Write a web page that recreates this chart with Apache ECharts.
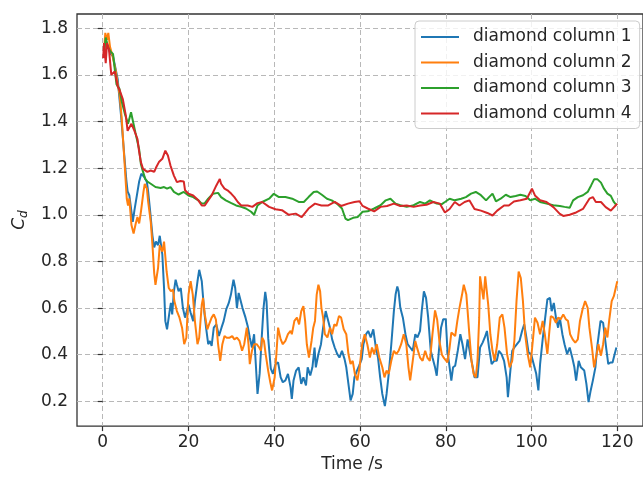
<!DOCTYPE html>
<html>
<head>
<meta charset="utf-8">
<script src="https://cdn.jsdelivr.net/npm/echarts@6/dist/echarts.min.js"></script>
<style>
  html, body { margin: 0; padding: 0; background: #fff; }
  #chart { width: 643px; height: 478px; }
</style>
</head>
<body>
<div id="chart"></div>
<script>
// Drag coefficient histories of four diamond columns (time in s, Cd)
const seriesNames = ['diamond column 1', 'diamond column 2', 'diamond column 3', 'diamond column 4'];
const seriesColors = ['#1f77b4', '#ff7f0e', '#2ca02c', '#d62728'];

const xTicks = [0, 20, 40, 60, 80, 100, 120];
const yTicks = [0.2, 0.4, 0.6, 0.8, 1.0, 1.2, 1.4, 1.6, 1.8];

const tCol1 = [0.3,0.7,1.2,1.8,2.4,2.8,3.5,4.3,5.0,5.5,5.8,6.2,7.0,7.4,7.7,8.1,8.5,9.0,9.7,10.3,10.6,11.0,11.6,12.0,12.4,12.9,13.3,13.9,14.3,14.6,15.0,15.6,15.9,16.2,16.6,17.0,17.3,17.7,18.2,18.7,19.2,20.0,20.5,21.1,21.5,22.1,22.5,23.1,23.6,24.1,24.6,25.0,25.4,25.9,26.5,27.1,27.7,28.2,28.8,29.4,29.9,30.5,30.9,31.3,31.7,32.1,32.6,33.3,33.8,34.3,34.8,35.3,35.7,36.1,36.6,37.1,37.5,37.9,38.2,38.6,39.2,39.7,40.3,40.9,41.5,42.0,42.6,43.2,43.8,44.1,44.5,45.1,45.7,46.3,46.8,47.4,47.8,48.4,48.9,49.4,49.7,50.3,50.9,51.4,52.0,52.4,53.0,53.5,54.1,54.7,55.2,55.8,56.4,56.8,57.3,57.8,58.3,58.7,59.3,59.8,60.4,60.8,61.4,61.9,62.5,63.1,63.7,64.2,64.7,65.2,65.8,66.2,66.7,67.3,67.9,68.3,68.7,69.0,69.4,70.0,70.6,71.1,71.7,72.3,72.9,73.4,74.0,74.4,74.9,75.4,75.9,76.5,76.9,77.5,77.9,78.4,78.9,79.4,80.0,80.4,80.9,81.3,81.7,82.2,82.8,83.4,83.9,84.5,85.1,85.7,86.3,86.7,87.4,88.0,88.6,89.1,89.6,90.1,90.7,91.3,91.9,92.4,93.0,93.6,94.2,94.5,95.0,95.5,96.0,96.6,97.2,97.8,98.3,98.8,99.3,99.9,100.5,101.1,101.6,102.0,102.6,103.1,103.7,104.3,104.7,105.2,105.7,106.2,106.6,107.2,107.7,108.3,108.9,109.5,110.0,110.4,111.0,111.5,112.3,112.8,113.3,113.8,114.3,114.9,115.3,115.7,116.1,116.7,117.1,117.4,117.9,118.4,118.9,119.4,119.8];
const cdCol1 = [1.70,1.75,1.72,1.69,1.68,1.68,1.58,1.42,1.26,1.15,1.10,1.084,0.97,1.02,1.013,1.098,1.143,1.176,1.162,1.14,1.098,1.027,0.91,0.86,0.885,0.87,0.91,0.83,0.686,0.544,0.509,0.587,0.622,0.573,0.672,0.722,0.70,0.672,0.686,0.60,0.559,0.615,0.58,0.544,0.63,0.715,0.764,0.715,0.60,0.516,0.445,0.459,0.438,0.516,0.53,0.48,0.516,0.544,0.594,0.622,0.658,0.722,0.686,0.60,0.665,0.672,0.60,0.559,0.523,0.473,0.431,0.488,0.36,0.232,0.32,0.48,0.60,0.67,0.63,0.47,0.34,0.318,0.36,0.367,0.303,0.282,0.29,0.318,0.261,0.211,0.29,0.332,0.346,0.275,0.303,0.268,0.346,0.311,0.346,0.431,0.346,0.403,0.445,0.516,0.587,0.559,0.516,0.466,0.431,0.403,0.388,0.417,0.381,0.346,0.275,0.204,0.232,0.303,0.332,0.353,0.381,0.445,0.488,0.502,0.474,0.509,0.431,0.388,0.303,0.232,0.18,0.232,0.318,0.445,0.587,0.658,0.693,0.672,0.601,0.559,0.488,0.445,0.431,0.417,0.488,0.474,0.502,0.587,0.672,0.644,0.559,0.417,0.388,0.346,0.31,0.417,0.516,0.552,0.552,0.417,0.346,0.289,0.346,0.353,0.417,0.488,0.445,0.381,0.466,0.403,0.346,0.303,0.303,0.431,0.452,0.474,0.502,0.431,0.36,0.374,0.374,0.417,0.403,0.374,0.303,0.218,0.318,0.417,0.431,0.445,0.459,0.502,0.53,0.474,0.41,0.403,0.36,0.318,0.247,0.36,0.466,0.545,0.637,0.644,0.587,0.622,0.559,0.516,0.559,0.488,0.445,0.403,0.431,0.388,0.346,0.289,0.374,0.346,0.332,0.275,0.197,0.247,0.289,0.346,0.431,0.488,0.545,0.537,0.53,0.431,0.36,0.367,0.367,0.403,0.431];

const tCol2 = [0.3,0.6,1.0,1.3,1.7,2.3,3.0,3.5,3.9,4.4,5.0,5.3,5.6,5.9,6.2,6.7,7.2,7.7,8.1,8.5,8.9,9.5,9.8,10.3,10.6,11.2,11.6,12.0,12.3,12.9,13.3,13.9,14.3,14.9,15.4,15.9,16.4,16.7,17.3,17.9,18.5,19.0,19.5,20.0,20.5,21.0,21.5,22.1,22.5,23.1,23.4,23.8,24.4,24.8,25.4,25.9,26.4,26.9,27.4,27.9,28.4,28.9,29.6,30.2,30.7,31.3,31.9,32.5,33.0,33.6,34.0,34.3,34.8,35.3,35.9,36.5,36.9,37.2,37.6,38.0,38.6,39.1,39.5,40.1,40.5,40.9,41.5,42.0,42.6,43.2,43.8,44.1,44.7,45.3,45.8,46.3,46.8,47.2,47.6,48.1,48.7,49.1,49.5,49.9,50.3,50.7,51.0,51.4,51.8,52.4,53.0,53.5,54.0,54.5,55.1,55.6,56.2,56.8,57.3,57.8,58.3,58.8,59.4,60.0,60.5,61.1,61.7,62.3,62.8,63.3,63.9,64.5,65.2,65.7,66.2,66.7,67.3,67.9,68.5,69.0,69.6,70.2,70.8,71.3,71.7,72.3,72.9,73.4,74.0,74.6,75.2,75.7,76.3,76.9,77.5,78.0,78.5,79.1,79.6,80.4,80.9,81.3,81.7,82.2,82.7,83.2,83.8,84.2,84.8,85.1,85.5,86.0,86.5,87.0,87.4,87.8,88.0,88.4,88.8,89.2,89.6,89.9,90.4,90.9,91.4,92.0,92.6,93.2,93.7,94.3,94.9,95.5,96.0,96.5,97.0,97.5,98.0,98.5,99.1,99.7,100.3,100.8,101.4,102.0,102.6,103.1,103.7,104.1,104.5,105.1,105.7,106.2,106.8,107.4,108.0,108.5,109.0,109.6,110.2,110.8,111.3,111.9,112.5,113.1,113.5,114.1,114.6,115.2,115.6,116.2,116.7,117.2,117.7,118.1,118.7,119.2,119.6,120.0];
const cdCol2 = [1.70,1.78,1.75,1.78,1.72,1.68,1.62,1.56,1.52,1.42,1.25,1.16,1.07,1.04,1.07,0.956,0.92,0.963,0.99,0.963,1.012,1.098,1.133,1.112,1.055,0.97,0.87,0.75,0.70,0.771,0.87,0.842,0.885,0.757,0.686,0.672,0.679,0.63,0.587,0.559,0.516,0.445,0.473,0.658,0.715,0.658,0.544,0.445,0.473,0.615,0.644,0.573,0.509,0.53,0.559,0.573,0.551,0.445,0.374,0.445,0.48,0.473,0.473,0.48,0.466,0.473,0.459,0.417,0.445,0.516,0.445,0.36,0.417,0.445,0.445,0.431,0.417,0.473,0.459,0.403,0.33,0.28,0.247,0.303,0.403,0.516,0.466,0.445,0.459,0.488,0.502,0.488,0.545,0.559,0.53,0.587,0.608,0.545,0.445,0.388,0.459,0.516,0.545,0.658,0.70,0.672,0.601,0.559,0.488,0.474,0.516,0.488,0.53,0.523,0.566,0.559,0.509,0.488,0.403,0.36,0.374,0.318,0.29,0.36,0.445,0.488,0.445,0.388,0.431,0.403,0.445,0.388,0.346,0.303,0.332,0.318,0.374,0.417,0.403,0.417,0.445,0.488,0.445,0.346,0.29,0.374,0.459,0.424,0.388,0.374,0.417,0.388,0.374,0.488,0.59,0.55,0.46,0.40,0.385,0.367,0.431,0.495,0.488,0.48,0.545,0.601,0.658,0.70,0.658,0.587,0.488,0.374,0.318,0.303,0.374,0.559,0.736,0.686,0.637,0.736,0.729,0.615,0.488,0.417,0.374,0.445,0.559,0.573,0.516,0.403,0.346,0.374,0.459,0.63,0.757,0.729,0.63,0.488,0.403,0.346,0.459,0.559,0.537,0.488,0.545,0.488,0.403,0.488,0.566,0.559,0.537,0.559,0.552,0.573,0.552,0.545,0.488,0.466,0.452,0.466,0.545,0.594,0.63,0.601,0.516,0.431,0.346,0.403,0.445,0.396,0.445,0.516,0.474,0.545,0.63,0.651,0.658,0.715];

const tCol3 = [0.3,0.7,1.2,1.8,2.4,3.2,3.9,4.5,5.2,5.9,6.6,7.6,8.5,8.9,9.2,9.9,10.4,11.2,12.3,13.5,14.3,15.0,15.8,16.6,17.7,18.9,20.0,21.1,22.3,23.1,23.8,24.6,25.7,26.9,27.6,28.7,30.0,31.1,32.3,33.4,34.6,35.3,36.1,37.2,38.8,39.9,41.1,42.6,44.2,45.7,46.9,48.0,49.2,50.0,51.1,52.3,53.4,54.6,55.8,56.6,57.2,58.4,59.5,60.6,61.8,63.3,64.8,66.0,67.1,68.3,69.4,70.9,72.5,74.0,75.2,76.3,77.9,79.0,79.8,80.9,82.1,83.6,84.7,85.9,87.0,88.2,89.4,90.1,90.9,91.7,92.8,94.0,95.1,96.3,97.4,98.6,99.7,100.8,102.0,103.5,105.1,106.6,107.7,108.9,109.7,110.8,112.0,113.1,113.9,114.6,115.4,116.2,116.9,117.7,118.5,119.2,119.8];
const cdCol3 = [1.70,1.76,1.72,1.70,1.69,1.56,1.54,1.48,1.43,1.39,1.44,1.354,1.28,1.218,1.197,1.154,1.143,1.133,1.119,1.115,1.119,1.112,1.119,1.098,1.087,1.098,1.083,1.076,1.062,1.048,1.05,1.069,1.09,1.094,1.076,1.062,1.05,1.04,1.034,1.027,1.013,1.0,1.04,1.055,1.069,1.09,1.076,1.076,1.069,1.055,1.055,1.076,1.098,1.10,1.086,1.069,1.062,1.048,1.027,0.984,0.977,0.987,0.991,1.013,1.015,1.027,1.041,1.062,1.069,1.048,1.041,1.034,1.041,1.055,1.048,1.062,1.048,1.045,1.055,1.069,1.062,1.069,1.076,1.091,1.098,1.084,1.062,1.076,1.091,1.058,1.069,1.086,1.076,1.081,1.086,1.081,1.062,1.069,1.055,1.048,1.041,1.038,1.034,1.03,1.062,1.076,1.084,1.098,1.126,1.152,1.152,1.138,1.112,1.091,1.081,1.055,1.041];

const tCol4 = [0.1,0.3,0.7,1.0,1.45,2.0,2.8,3.5,3.9,4.7,5.4,5.8,6.2,6.7,7.4,7.6,8.1,8.5,8.9,9.4,10.4,11.2,12.0,12.5,13.1,13.9,14.6,15.2,15.8,16.6,17.3,18.1,18.9,19.2,20.0,21.1,22.3,23.1,23.8,24.6,25.4,26.5,27.3,27.6,28.4,29.1,30.0,30.7,31.5,32.3,33.8,34.9,36.1,37.2,38.8,40.3,41.8,43.4,45.0,46.4,48.0,49.5,51.0,52.6,54.1,55.6,57.2,58.7,59.9,60.6,61.8,63.3,64.8,66.3,67.9,69.4,70.9,72.5,74.0,75.5,77.1,78.6,79.8,80.9,82.1,83.2,84.4,85.5,86.7,88.2,89.7,90.9,92.0,93.6,94.7,95.9,97.4,98.9,100.1,100.8,102.0,103.5,105.1,106.6,107.4,108.9,110.4,112.0,113.5,114.3,115.0,116.2,117.3,118.5,119.6,120.0];
const cdCol4 = [1.672,1.736,1.65,1.736,1.71,1.60,1.615,1.55,1.537,1.495,1.424,1.36,1.354,1.39,1.36,1.354,1.325,1.27,1.226,1.197,1.184,1.19,1.184,1.205,1.226,1.24,1.275,1.254,1.211,1.168,1.14,1.145,1.143,1.105,1.09,1.083,1.062,1.04,1.04,1.062,1.083,1.126,1.154,1.133,1.112,1.105,1.09,1.076,1.055,1.04,1.04,1.034,1.05,1.055,1.034,1.024,1.02,1.0,1.005,0.99,1.027,1.048,1.04,1.04,1.055,1.038,1.048,1.055,1.058,1.038,1.027,1.015,1.034,1.038,1.048,1.038,1.04,1.034,1.04,1.043,1.055,1.048,1.01,1.025,1.055,1.04,1.055,1.062,1.025,1.018,1.008,0.997,1.018,1.04,1.04,1.057,1.062,1.069,1.112,1.083,1.062,1.055,1.033,1.004,0.995,1.0,1.01,1.025,1.069,1.076,1.055,1.055,1.033,1.018,1.04,1.048];

const timeArrays = [tCol1, tCol2, tCol3, tCol4];
const cdArrays = [cdCol1, cdCol2, cdCol3, cdCol4];

const FONT = 'DejaVu Sans';
const INK = '#262626';

const chart = echarts.init(document.getElementById('chart'), null, { renderer: 'canvas' });

const series = seriesNames.map((name, i) => ({
  name: name,
  type: 'line',
  data: timeArrays[i].map((t, k) => [t, cdArrays[i][k]]),
  symbol: 'none',
  showSymbol: false,
  smooth: false,
  clip: true,
  lineStyle: { color: seriesColors[i], width: 2 },
  itemStyle: { color: seriesColors[i] },
  emphasis: { disabled: true },
  z: 2 + i
}));

chart.setOption({
  animation: false,
  backgroundColor: '#ffffff',
  grid: {
    left: 77, top: 14, width: 574, height: 415,
    show: true, borderColor: '#333333', borderWidth: 1.3, backgroundColor: 'transparent'
  },
  legend: {
    orient: 'vertical',
    left: 415, top: 21,
    padding: [6, 8, 5, 6],
    icon: 'rect',
    itemWidth: 38, itemHeight: 2, itemGap: 5.5,
    backgroundColor: 'rgba(255,255,255,0.8)',
    borderColor: '#cccccc', borderWidth: 1, borderRadius: 4,
    textStyle: { fontFamily: FONT, fontSize: 17, color: INK, lineHeight: 20, padding: [0, 0, 0, 9] },
    data: seriesNames.map((n, i) => ({ name: n, icon: 'rect', itemStyle: { color: seriesColors[i] } })),
    selectedMode: false
  },
  xAxis: {
    type: 'value', min: -6, max: 126,
    name: 'Time /s', nameLocation: 'middle', nameGap: 27,
    nameTextStyle: { fontFamily: FONT, fontSize: 17, color: INK, padding: [0, 16, 0, 0] },
    axisLine: { show: false },
    axisTick: { show: true, inside: false, length: 5, customValues: xTicks, lineStyle: { color: '#333', width: 1.2 } },
    axisLabel: { customValues: xTicks, margin: 8, fontFamily: FONT, fontSize: 17, color: INK },
    splitLine: { show: true, lineStyle: { color: '#b8b8b8', width: 1, type: [5, 3] } }
  },
  yAxis: {
    type: 'value', min: 0.094, max: 1.861,
    name: '{c|C}{d|d}', nameLocation: 'middle', nameGap: 45, nameRotate: 90,
    nameTextStyle: {
      fontFamily: FONT, color: INK,
      rich: {
        c: { fontFamily: FONT, fontSize: 17, fontStyle: 'italic', color: INK },
        d: { fontFamily: FONT, fontSize: 12, fontStyle: 'italic', color: INK, padding: [8, 0, 0, 0] }
      }
    },
    axisLine: { show: false },
    axisTick: { show: true, inside: false, length: 5, customValues: yTicks, lineStyle: { color: '#333', width: 1.2 } },
    axisLabel: {
      customValues: yTicks, margin: 9, fontFamily: FONT, fontSize: 17, color: INK,
      formatter: v => v.toFixed(1)
    },
    splitLine: { show: true, lineStyle: { color: '#b8b8b8', width: 1, type: [5, 3] } }
  },
  series: series
});
</script>
</body>
</html>
